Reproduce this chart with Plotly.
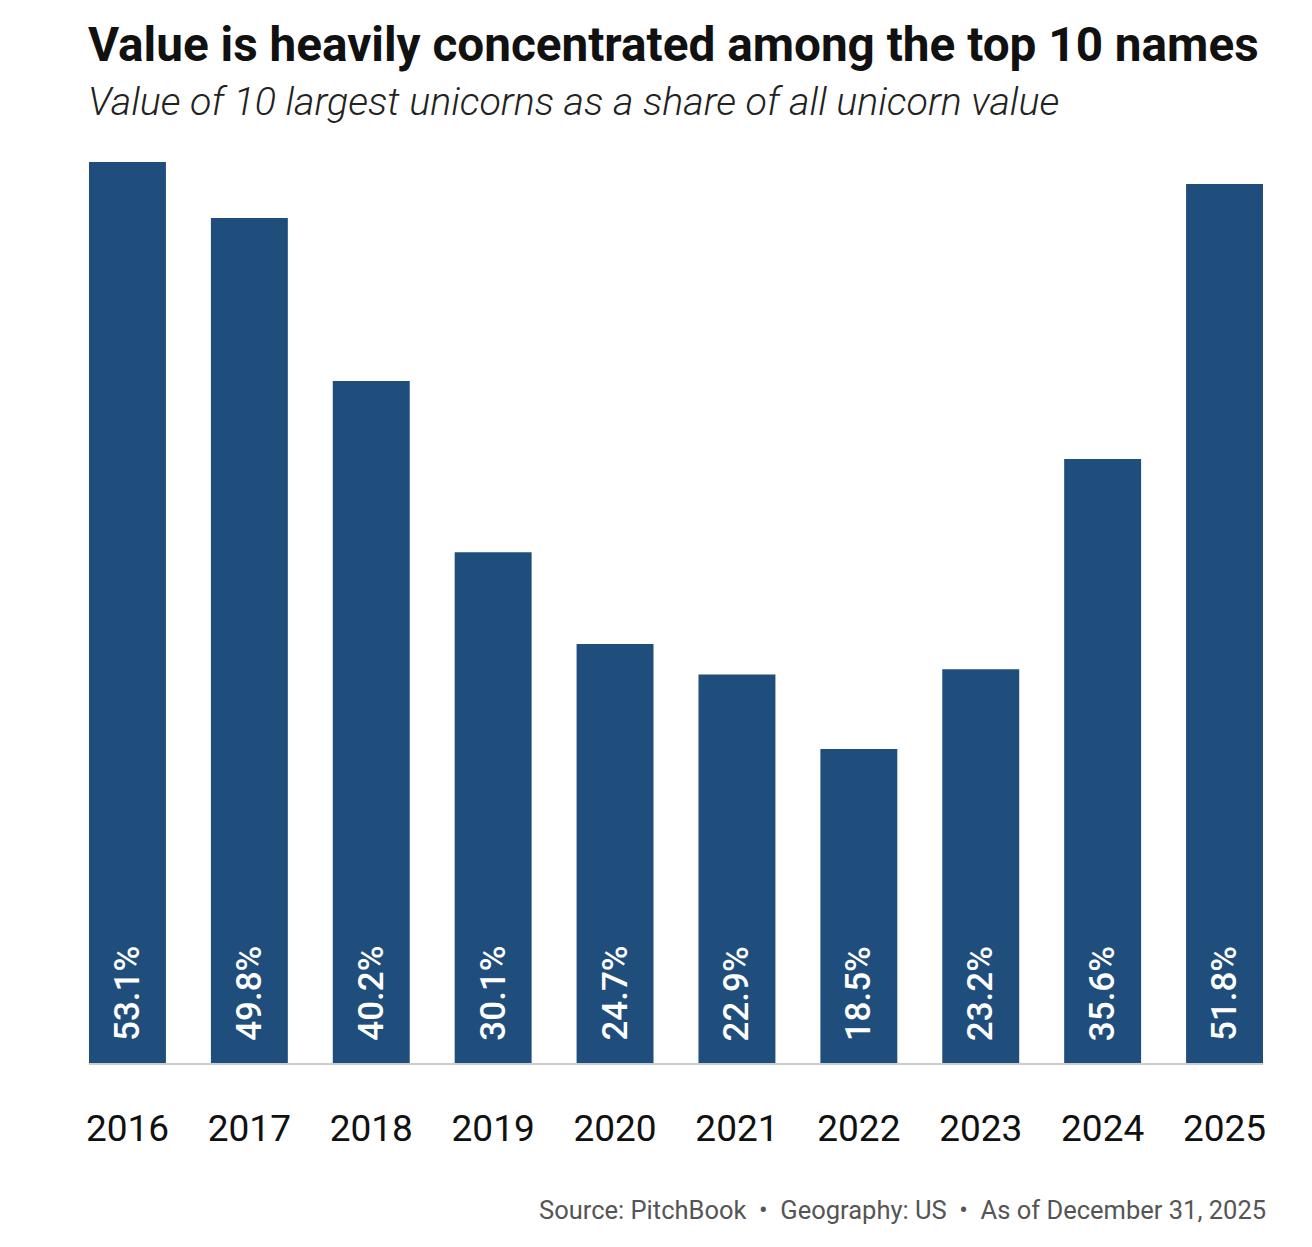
import plotly.graph_objects as go

years = ["2016", "2017", "2018", "2019", "2020", "2021", "2022", "2023", "2024", "2025"]
shares = [53.1, 49.8, 40.2, 30.1, 24.7, 22.9, 18.5, 23.2, 35.6, 51.8]
title = "Value is heavily concentrated among the top 10 names"
subtitle = "Value of 10 largest unicorns as a share of all unicorn value"
footer = "Source: PitchBook  •  Geography: US  •  As of December 31, 2025"

BAR = "#1f4e7d"
W, H = 1312, 1247
ML, MR, MT, MB = 89, 49, 162, 184
PH = H - MT - MB
PW = W - ML - MR

def py(p):
    return (H - MB - p) / PH

def px(p):
    return (p - ML) / PW

fig = go.Figure()
fig.add_trace(go.Bar(x=years, y=shares, marker=dict(color=BAR, line=dict(width=0)),
                     hoverinfo="skip"))

for i, v in enumerate(shares):
    fig.add_annotation(x=i, y=0, xref="x", yref="y", text=f"{v:.1f}%",
                       textangle=-90, showarrow=False, yanchor="bottom", xanchor="center",
                       yshift=20, font=dict(family="Roboto", size=35, color="white", weight=500))

fig.add_annotation(x=px(86), y=py(45), xref="paper", yref="paper", text=title,
                   showarrow=False, xanchor="left", yanchor="middle",
                   font=dict(family="Roboto", size=47.7, color="#111111", weight=700))
fig.add_annotation(x=px(86), y=py(102), xref="paper", yref="paper", text=subtitle,
                   showarrow=False, xanchor="left", yanchor="middle",
                   font=dict(family="Roboto", size=39.4, color="#222222", weight=300, style="italic"))
fig.add_annotation(x=px(1268), y=py(1210), xref="paper", yref="paper", text=footer,
                   showarrow=False, xanchor="right", yanchor="middle",
                   font=dict(family="Roboto", size=25.5, color="#555555"))

off = 38.5 / 122
fig.update_layout(
    width=W, height=H,
    margin=dict(l=ML, r=MR, t=MT, b=MB, pad=0),
    paper_bgcolor="white", plot_bgcolor="white",
    bargap=1 - 77 / 122,
    showlegend=False,
    xaxis=dict(type="category", range=[-off, len(years) - 1 + off], showgrid=False,
               showline=True, linecolor="#cccccc", linewidth=2, ticks="",
               ticklabelstandoff=32, zeroline=False,
               tickfont=dict(family="Roboto", size=37, color="#111111")),
    yaxis=dict(range=[0, max(shares)], showgrid=False, zeroline=False,
               showticklabels=False, showline=False, ticks=""),
)
fig.write_html("out.html", config={"displayModeBar": False},
               post_script="document.body.style.margin='0';")
